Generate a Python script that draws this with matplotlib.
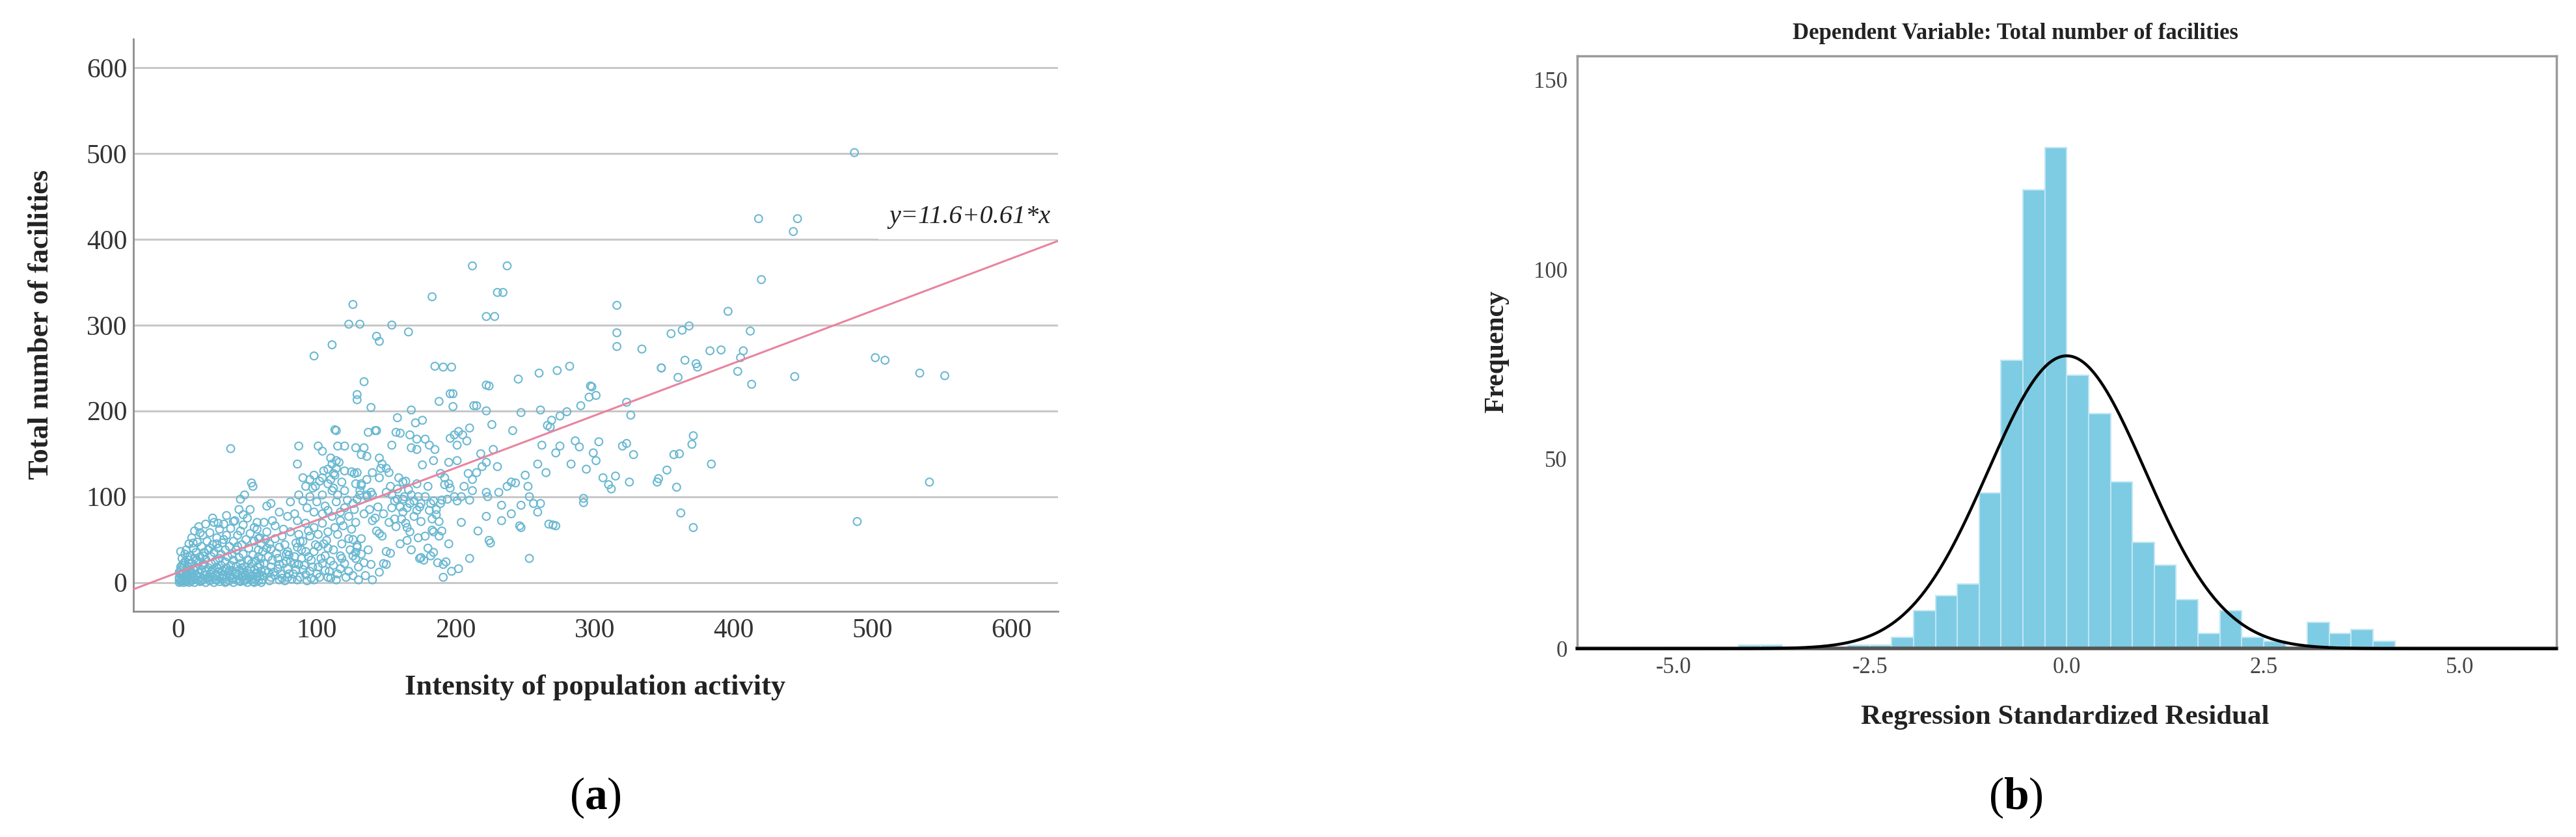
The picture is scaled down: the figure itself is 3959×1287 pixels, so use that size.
import matplotlib.pyplot as plt
import numpy as np

plt.rcParams['font.family'] = ['Liberation Serif', 'DejaVu Serif']
plt.rcParams['mathtext.fontset'] = 'custom'
plt.rcParams['mathtext.rm'] = 'Liberation Serif'
plt.rcParams['mathtext.bf'] = 'Liberation Serif:bold'

# (a) intensity of population activity vs total number of facilities
pts_origin = [
    (1, 0), (1, 3), (1, 6), (1, 12), (2, 1), (2, 9), (2, 14), (2, 36), (3, 2), (3, 5), (3, 20), (3, 28),
    (4, 0), (4, 11), (4, 17), (5, 3), (5, 7), (5, 24), (5, 33), (6, 1), (6, 13), (6, 38), (7, 4), (7, 9),
    (7, 19), (8, 0), (8, 26), (8, 45), (9, 6), (9, 15), (9, 31), (10, 2), (10, 10), (10, 22), (10, 52),
    (11, 5), (11, 40), (12, 0), (12, 14), (12, 28), (12, 60), (13, 8), (13, 18), (13, 35), (14, 3), (14, 47),
    (15, 11), (15, 24), (15, 65), (16, 1), (16, 6), (16, 30), (17, 15), (17, 42), (18, 4), (18, 20), (18, 55),
    (19, 9), (19, 35), (20, 0), (20, 13), (20, 27), (20, 68), (21, 5), (21, 48), (22, 17), (22, 38), (23, 2),
    (23, 10), (23, 58), (24, 22), (24, 30), (25, 6), (25, 15), (25, 44), (26, 0), (26, 35), (26, 70), (27, 9),
    (27, 25), (28, 3), (28, 18), (28, 52), (29, 12), (29, 40), (30, 1), (30, 7), (30, 28), (30, 62), (31, 20),
    (31, 33), (32, 4), (32, 14), (32, 46), (33, 9), (33, 68), (34, 0), (34, 24), (34, 38), (35, 6), (35, 17),
    (35, 55), (36, 11), (36, 30), (37, 2), (37, 42), (38, 8), (38, 20), (38, 63), (39, 14), (39, 33), (40, 0),
    (40, 5), (40, 26), (40, 48), (41, 11), (41, 72), (42, 3), (42, 19), (42, 38), (43, 8), (43, 55), (44, 14),
    (44, 29), (45, 1), (45, 22), (45, 60), (46, 6), (46, 44), (47, 12), (47, 33), (47, 79), (47, 67), (48, 2),
    (48, 18), (48, 102), (49, 8), (49, 50), (50, 0), (50, 14), (50, 26), (45, 97), (51, 5), (51, 40), (52, 10),
    (52, 57), (54, 112), (53, 3), (53, 22), (53, 116), (54, 8), (54, 32), (55, 0), (55, 15), (55, 48), (55, 64),
    (56, 4), (56, 25), (57, 11), (57, 62), (58, 2), (58, 18), (58, 38), (59, 7), (59, 52), (60, 0), (60, 13),
    (60, 28), (38, 156), (29, 69), (40, 71), (3, 9), (6, 4), (9, 2), (11, 16), (14, 8), (17, 2), (19, 21),
    (22, 6), (24, 12), (27, 3), (29, 16), (32, 8), (35, 1), (37, 14), (39, 5), (42, 10), (44, 2), (46, 17),
    (49, 4), (52, 16), (54, 1), (57, 6), (8, 12), (13, 25), (18, 31), (23, 40), (28, 45), (33, 50), (43, 42),
    (56, 10), (58, 30), (61, 8), (62, 22), (63, 14), (64, 40), (65, 30), (66, 2), (68, 26), (69, 12),
    (71, 34), (72, 16), (74, 10), (76, 22), (77, 2), (78, 33), (80, 10), (81, 24), (82, 4), (84, 30),
    (85, 15), (88, 6), (89, 38), (91, 20), (93, 2), (94, 30), (97, 18), (99, 44), (102, 6), (104, 22),
    (106, 14), (108, 40), (110, 5), (112, 20), (115, 10), (118, 28), (60, 45), (63, 50), (57, 70), (52, 85),
    (50, 75), (44, 85), (35, 78), (25, 75), (16, 58), (11, 46), (7, 30), (4, 22), (2, 18), (6, 8),
]

pts_low = [
    (87, 159), (101, 159), (104, 153), (115, 159), (120, 159), (114, 177), (86, 138), (114, 142), (111, 138),
    (114, 133), (125, 129), (127, 127), (90, 122), (95, 120), (98, 125), (104, 122), (108, 115), (112, 127),
    (118, 117), (120, 107), (115, 102), (111, 107), (104, 102), (97, 110), (92, 112), (100, 94), (87, 102),
    (81, 94), (93, 87), (98, 82), (106, 89), (114, 94), (120, 87), (123, 77), (117, 72), (111, 77), (104, 69),
    (98, 64), (92, 69), (86, 72), (79, 77), (73, 82), (67, 92), (64, 89), (126, 92), (131, 102), (132, 115),
    (81, 59), (87, 56), (95, 54), (101, 56), (108, 59), (115, 56), (123, 51), (129, 43), (132, 33), (126, 31),
    (117, 31), (106, 31), (98, 36), (92, 36), (86, 41), (79, 36), (73, 41), (67, 39), (61, 36), (58, 51),
    (64, 59), (70, 51), (51, 26), (59, 21), (67, 18), (73, 21), (79, 16), (87, 21), (95, 13), (101, 18),
    (109, 13), (117, 16), (123, 13), (130, 18), (61, 3), (67, 6), (73, 3), (79, 6), (86, 3), (92, 9), (98, 3),
    (108, 6), (114, 3), (121, 6), (130, 3), (96, 5), (100, 10), (90, 15), (83, 10), (75, 5), (70, 8), (65, 12),
    (72, 28), (78, 25), (80, 32), (85, 46), (88, 48), (76, 62), (84, 80), (90, 95), (95, 100), (99, 112),
    (102, 118), (110, 120), (113, 125), (120, 130), (108, 132), (116, 140), (110, 145), (105, 130), (112, 110),
    (122, 96), (127, 85), (128, 70), (125, 62), (118, 45), (112, 38), (105, 45), (110, 25), (103, 28), (96, 26),
    (89, 28), (84, 22), (77, 44), (70, 66), (68, 72), (62, 70), (66, 45), (75, 54), (104, 80), (108, 84),
    (117, 82), (94, 60), (90, 48), (101, 42), (107, 49), (113, 64), (119, 66), (124, 38), (120, 22), (126, 8),
    (139, 204), (168, 201), (158, 192), (176, 189), (171, 186), (143, 177), (160, 174), (167, 172), (172, 167),
    (178, 167), (181, 160), (185, 155), (196, 168), (168, 157), (172, 155), (154, 160), (128, 157), (134, 157),
    (136, 147), (145, 145), (147, 138), (150, 133), (145, 122), (129, 128), (132, 113), (128, 115), (136, 102),
    (139, 105), (159, 122), (162, 117), (158, 109), (154, 102), (162, 97), (167, 92), (165, 87), (170, 77),
    (173, 100), (175, 92), (181, 84), (186, 79), (183, 74), (188, 71), (176, 137), (184, 142), (195, 140),
    (189, 127), (192, 122), (195, 115), (194, 97), (184, 95), (189, 92), (191, 21), (187, 23), (182, 31),
    (174, 28), (191, 6), (140, 3), (150, 21), (150, 36), (153, 34), (143, 60), (147, 54), (140, 72), (142, 75),
    (139, 21), (134, 23), (128, 28), (129, 41), (164, 69), (167, 59), (161, 74), (165, 49), (173, 52),
    (178, 54), (184, 59), (188, 54), (131, 107), (136, 100), (140, 102), (129, 97), (132, 51), (158, 97),
    (154, 87), (156, 74), (165, 64), (168, 102), (172, 84), (162, 82), (175, 71), (145, 57), (142, 177),
    (137, 38), (145, 12), (135, 8), (148, 22), (128, 35), (126, 50), (183, 61), (175, 29), (177, 26),
    (184, 35), (193, 24), (197, 13), (199, 100), (196, 110), (192, 114), (180, 112), (172, 115), (164, 118),
    (152, 128), (146, 133), (140, 128), (136, 120), (150, 105), (153, 112), (156, 95), (160, 88), (163, 100),
    (166, 108), (170, 95), (174, 88), (178, 100), (182, 92), (186, 85), (190, 96), (148, 80), (152, 70),
    (157, 65), (144, 88), (138, 85), (134, 80), (180, 40), (160, 45), (168, 38), (195, 45), (190, 60),
]

pts_mid = [
    (134, 234), (129, 219), (129, 213), (191, 251), (197, 251), (224, 229), (245, 237), (260, 244), (188, 211),
    (198, 220), (198, 205), (215, 206), (222, 200), (226, 184), (247, 198), (261, 201), (266, 183), (241, 177),
    (202, 176), (205, 172), (199, 172), (201, 160), (201, 142), (204, 100), (201, 95), (209, 127), (212, 120),
    (206, 112), (212, 107), (219, 135), (222, 140), (237, 112), (240, 117), (231, 105), (222, 105), (223, 100),
    (233, 90), (247, 90), (256, 92), (261, 92), (222, 77), (233, 72), (247, 64), (259, 82), (252, 112),
    (270, 67), (225, 46), (253, 28), (210, 28), (202, 16), (273, 247), (282, 252), (298, 228), (296, 216),
    (301, 218), (290, 206), (280, 199), (275, 194), (269, 189), (268, 181), (323, 210), (326, 195), (275, 159),
    (272, 151), (303, 164), (299, 151), (320, 159), (328, 149), (283, 138), (294, 132), (301, 142), (315, 124),
    (310, 114), (292, 98), (292, 93), (272, 66), (212, 369), (237, 369), (234, 338), (230, 338), (183, 333),
    (126, 324), (222, 310), (228, 310), (123, 301), (131, 301), (154, 300), (166, 292), (143, 287), (145, 281),
    (111, 277), (98, 264), (316, 323), (316, 291), (316, 275), (334, 272), (185, 252), (297, 229), (262, 160),
    (259, 138), (243, 116), (246, 66), (267, 68), (230, 135), (215, 128), (218, 150), (227, 155), (210, 180),
    (208, 165), (250, 125), (265, 128), (286, 165), (289, 158), (253, 100), (240, 80), (216, 60), (204, 70),
    (210, 96), (224, 49), (222, 230), (196, 220), (213, 206), (137, 175), (113, 178), (157, 175), (132, 149),
]

pts_far = [
    (487, 501), (418, 424), (446, 424), (443, 409), (420, 353), (396, 316), (355, 290), (363, 294), (368, 299),
    (412, 293), (383, 270), (391, 271), (407, 270), (405, 262), (365, 259), (373, 255), (348, 250), (502, 262),
    (509, 259), (534, 244), (552, 241), (403, 246), (444, 240), (541, 117), (489, 71), (360, 239), (348, 250),
    (374, 251), (413, 231), (371, 171), (370, 161), (361, 150), (384, 138), (352, 131), (346, 121), (359, 111),
    (362, 81), (371, 64), (357, 149), (345, 117), (325, 117), (312, 109), (306, 122), (323, 162),
]

fit_a, fit_b = 11.6, 0.61

# (b) histogram of regression standardized residuals
bin_start = -4.17
bin_width = 0.278
counts = [1, 1, 0, 0, 0, 1, 1, 3, 10, 14, 17, 41, 76, 121, 132,
          72, 62, 44, 28, 22, 13, 4, 10, 3, 2, 0, 7, 4, 5, 2]
res_mean, res_sd = 0.0, 1.0

pts = np.array(pts_origin + pts_low + pts_mid + pts_far, dtype=float)

fig = plt.figure(figsize=(39.59, 12.87), dpi=100)

# ---------- (a) ----------
ax1 = fig.add_axes([0.0518, 0.270, 0.3589, 0.683])
ax1.set_xlim(-32, 633.5)
ax1.set_ylim(-33.3, 633)
ax1.set_axisbelow(True)
ax1.yaxis.grid(True, color='#C8C8C8', lw=2.2)
ax1.set_xticks(range(0, 700, 100))
ax1.set_yticks(range(0, 700, 100))
ax1.tick_params(length=0, labelsize=30, colors='#333333')
ax1.tick_params(axis='x', pad=8)
ax1.tick_params(axis='y', pad=7)
for s in ['top', 'right']:
    ax1.spines[s].set_visible(False)
for s in ['left', 'bottom']:
    ax1.spines[s].set_color('#8C8C8C')
    ax1.spines[s].set_linewidth(2)

ax1.scatter(pts[:, 0], pts[:, 1], s=72, facecolors='none', edgecolors='#6AB8D2',
            linewidths=1.5, zorder=2)
xl = np.array(ax1.get_xlim())
ax1.plot(xl, fit_a + fit_b * xl, color='#E8849F', lw=2.2, zorder=3)
ax1.text(512, 426, f'y={fit_a}+{fit_b}*x', style='italic', fontsize=29, ha='left', va='center',
         color='#222222', zorder=1.5,
         bbox=dict(boxstyle='square,pad=0.4', fc='white', ec='none'))

fig.text(0.016, 0.612, 'Total number of facilities', rotation=90, fontsize=32,
         fontweight='bold', ha='center', va='center', color='#222222')
fig.text(0.2311, 0.179, 'Intensity of population activity', fontsize=32,
         fontweight='bold', ha='center', va='center', color='#222222')

# ---------- (b) ----------
ax2 = fig.add_axes([0.6123, 0.225, 0.3800, 0.708])
ax2.set_xlim(-6.22, 6.22)
ax2.set_ylim(0, 156.2)
lefts = bin_start + bin_width * np.arange(len(counts))
ax2.bar(lefts, counts, width=bin_width, align='edge', color='#7ECBE4',
        edgecolor='#BFE6F3', linewidth=1.5, zorder=2)
n_obs = sum(counts)
xs = np.linspace(-6.22, 6.22, 600)
ys = n_obs * bin_width * np.exp(-0.5 * ((xs - res_mean) / res_sd) ** 2) / (res_sd * np.sqrt(2 * np.pi))
ax2.plot(xs, ys, color='black', lw=3.2, zorder=3, clip_on=False)

ax2.set_xticks([-5, -2.5, 0, 2.5, 5])
ax2.set_xticklabels(['-5.0', '-2.5', '0.0', '2.5', '5.0'])
ax2.set_yticks([0, 50, 100, 150])
ax2.tick_params(length=0, labelsize=25, colors='#444444')
ax2.tick_params(axis='x', pad=9)
ax2.tick_params(axis='y', pad=11)
for s in ['top', 'right', 'left']:
    ax2.spines[s].set_color('#9A9A9A')
    ax2.spines[s].set_linewidth(2.5)
ax2.spines['bottom'].set_color('#555555')
ax2.spines['bottom'].set_linewidth(4)

fig.text(0.7825, 0.960, 'Dependent Variable: Total number of facilities', fontsize=25,
         fontweight='bold', ha='center', va='center', color='#222222')
fig.text(0.581, 0.58, 'Frequency', rotation=90, fontsize=30, fontweight='bold',
         ha='center', va='center', color='#222222')
fig.text(0.8017, 0.143, 'Regression Standardized Residual', fontsize=31, fontweight='bold',
         ha='center', va='center', color='#222222')

fig.text(0.2311, 0.0466, r'($\mathbf{a}$)', fontsize=50, ha='center', va='center')
fig.text(0.7825, 0.0466, r'($\mathbf{b}$)', fontsize=50, ha='center', va='center')

fig.savefig('out.png', dpi=100)
